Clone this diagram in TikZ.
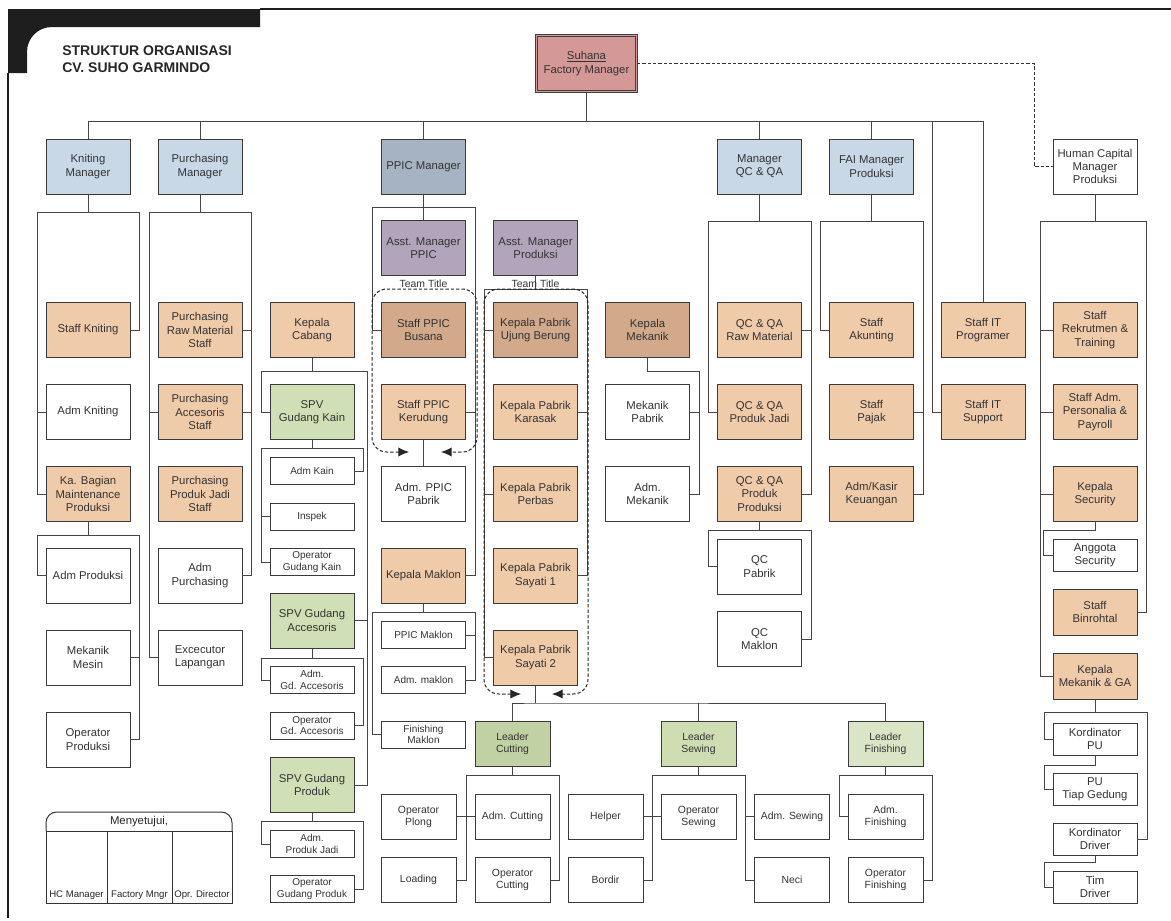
\documentclass[tikz,border=0pt]{standalone}
\usepackage{fontspec}
\setmainfont{Liberation Sans}
\usetikzlibrary{arrows.meta}

\definecolor{boxline}{HTML}{3A3A3A}
\definecolor{wiregray}{HTML}{454545}
\definecolor{framedark}{HTML}{1E1E1E}
\definecolor{fmred}{HTML}{D49896}
\definecolor{mgrblue}{HTML}{C9D8E6}
\definecolor{ppicblue}{HTML}{A6B3C3}
\definecolor{asstpurple}{HTML}{B0A5BB}
\definecolor{tanlight}{HTML}{F0CBAA}
\definecolor{tandark}{HTML}{D2A98A}
\definecolor{spvgreen}{HTML}{D1DFB6}
\definecolor{leadgreen}{HTML}{C2D1A3}

\begin{document}
\begin{tikzpicture}[x=0.75pt,y=-0.75pt,
  wire/.style={draw=wiregray, line width=0.75pt},
  base/.style={draw=boxline, line width=0.75pt, align=center, inner sep=1pt,
    text=black!80, font=\fontsize{8.5}{10}\selectfont,
    minimum width=63pt, minimum height=41.25pt},
  fmbox/.style={base, fill=fmred, draw=black!75, line width=0.6pt,
    double=fmred, double distance=1.3pt, minimum width=75pt, minimum height=42pt},
  mgrbox/.style={base, fill=mgrblue},
  ppicbox/.style={base, fill=ppicblue},
  asstbox/.style={base, fill=asstpurple},
  staffbox/.style={base, fill=tanlight},
  headbox/.style={base, fill=tandark},
  plainbox/.style={base, fill=white},
  spvbox/.style={base, fill=spvgreen},
  shortbox/.style={base, fill=tanlight, minimum height=34.5pt},
  smallbox/.style={base, fill=white, minimum height=20.25pt,
    font=\fontsize{7.5}{8.8}\selectfont},
  midbox/.style={base, fill=white, minimum height=24pt},
  leadbox/.style={base, minimum width=56.25pt, minimum height=33.75pt,
    font=\fontsize{7.8}{9}\selectfont},
  crewbox/.style={leadbox, fill=white},
  titletxt/.style={font=\bfseries\fontsize{10.5}{13}\selectfont, text=black!85, inner sep=0pt},
  teamlbl/.style={anchor=base, inner sep=0pt, font=\fontsize{7.8}{9}\selectfont, text=black!80},
  teamloop/.style={draw=black!85, line width=0.75pt, dash pattern=on 2.5pt off 1.5pt,
    rounded corners=11pt, {Latex[length=8pt,width=7pt]}-{Latex[length=8pt,width=7pt]}},
  hcdash/.style={draw=black!80, line width=0.7pt, dash pattern=on 2.5pt off 1.5pt},
  signhead/.style={inner sep=0pt, font=\fontsize{8.5}{10}\selectfont, text=black!85},
  signlbl/.style={inner sep=0pt, font=\fontsize{7.2}{8}\selectfont, text=black!85}]

\useasboundingbox (0,0) rectangle (1171,921);

% frame
\fill[framedark] (8,9) -- (260,9) -- (260,27) -- (52,27)
  .. controls (38,27) and (27,38) .. (27,52) -- (27,73) -- (8,73) -- cycle;
\draw[framedark, line width=0.9pt] (260,9) -- (1171,9);
\draw[framedark, line width=0.9pt] (8,73) -- (8,918);

\node[titletxt, anchor=base west] (title1) at (62,55) {STRUKTUR ORGANISASI};
\node[titletxt, anchor=base west] (title2) at (62,72) {CV. SUHO GARMINDO};

% top
\node[fmbox] (fm) at (586.5,63.5) {\underline{Suhana}\\Factory Manager};

% managers
\node[mgrbox]   (knitmgr)  at (88,166.5)    {Kniting\\Manager};
\node[mgrbox]   (purchmgr) at (200,166.5)   {Purchasing\\Manager};
\node[ppicbox]  (ppicmgr)  at (423.5,166.5) {PPIC Manager};
\node[mgrbox]   (qcmgr)    at (759.5,166.5) {Manager\\QC \& QA};
\node[mgrbox]   (faimgr)   at (871.5,166.5) {FAI Manager\\Produksi};
\node[plainbox] (hcmgr)    at (1095,166.5)  {Human Capital\\Manager\\Produksi};

\node[asstbox] (asstppic) at (423.5,248) {Asst. Manager\\PPIC};
\node[asstbox] (asstprod) at (535.5,248) {Asst. Manager\\Produksi};

% kniting
\node[staffbox] (staffknit) at (88,330)   {Staff Kniting};
\node[plainbox] (admknit)   at (88,412)   {Adm Kniting};
\node[staffbox] (kabag)     at (88,494)   {Ka. Bagian\\Maintenance\\Produksi};
\node[plainbox] (admprod)   at (88,575.5) {Adm Produksi};
\node[plainbox] (mekmesin)  at (88,657.5) {Mekanik\\Mesin};
\node[plainbox] (opprod)    at (88,739.5) {Operator\\Produksi};

% purchasing
\node[staffbox] (purchraw)  at (200,330)   {Purchasing\\Raw Material\\Staff};
\node[staffbox] (purchacc)  at (200,412)   {Purchasing\\Accesoris\\Staff};
\node[staffbox] (purchpj)   at (200,494)   {Purchasing\\Produk Jadi\\Staff};
\node[plainbox] (admpurch)  at (200,575.5) {Adm\\Purchasing};
\node[plainbox] (excecutor) at (200,657.5) {Excecutor\\Lapangan};

% cabang
\node[staffbox] (kepcabang) at (312,330)   {Kepala\\Cabang};
\node[spvbox]   (spvkain)   at (312,412)   {SPV\\Gudang Kain};
\node[smallbox] (admkain)   at (312,471)   {Adm Kain};
\node[smallbox] (inspek)    at (312,516.5) {Inspek};
\node[smallbox] (opkain)    at (312,562)   {Operator\\Gudang Kain};
\node[spvbox]   (spvacc)    at (312,620.5) {SPV Gudang\\Accesoris};
\node[smallbox] (admgdacc)  at (312,680)   {Adm.\\Gd. Accesoris};
\node[smallbox] (opgdacc)   at (312,725.5) {Operator\\Gd. Accesoris};
\node[spvbox]   (spvprod)   at (312,785)   {SPV Gudang\\Produk};
\node[smallbox] (admpj)     at (312,844)   {Adm.\\Produk Jadi};
\node[smallbox] (opgdprod)  at (312,889)   {Operator\\Gudang Produk};

% ppic
\node[headbox]  (staffbusana)   at (423.5,330)   {Staff PPIC\\Busana};
\node[staffbox] (staffkerudung) at (423.5,412)   {Staff PPIC\\Kerudung};
\node[plainbox] (admppic)       at (423.5,494)   {Adm. PPIC\\Pabrik};
\node[staffbox] (kepmaklon)     at (423.5,575.5) {Kepala Maklon};
\node[smallbox] (ppicmaklon)    at (423.5,635)   {PPIC Maklon};
\node[smallbox] (admmaklon)     at (423.5,680)   {Adm. maklon};
\node[smallbox] (finmaklon)     at (423.5,734.5) {Finishing\\Maklon};

% produksi
\node[headbox]  (kpujung)   at (535.5,330)   {Kepala Pabrik\\Ujung Berung};
\node[staffbox] (kpkarasak) at (535.5,412)   {Kepala Pabrik\\Karasak};
\node[staffbox] (kpperbas)  at (535.5,494)   {Kepala Pabrik\\Perbas};
\node[staffbox] (kpsayati1) at (535.5,575.5) {Kepala Pabrik\\Sayati 1};
\node[staffbox] (kpsayati2) at (535.5,657.5) {Kepala Pabrik\\Sayati 2};

\node[leadbox, fill=leadgreen] (ldcut) at (512.5,744) {Leader\\Cutting};
\node[leadbox, fill=spvgreen!85!leadgreen] (ldsew) at (698.5,744) {Leader\\Sewing};
\node[leadbox, fill=spvgreen!80!white] (ldfin) at (885.5,744) {Leader\\Finishing};

\node[crewbox] (opplong) at (418.5,816.5) {Operator\\Plong};
\node[crewbox] (admcut)  at (512.5,816.5) {Adm. Cutting};
\node[crewbox] (loading) at (418.5,880)   {Loading};
\node[crewbox] (opcut)   at (512.5,880)   {Operator\\Cutting};
\node[crewbox] (helper)  at (605.5,816.5) {Helper};
\node[crewbox] (opsew)   at (698.5,816.5) {Operator\\Sewing};
\node[crewbox] (admsew)  at (792,816.5)   {Adm. Sewing};
\node[crewbox] (bordir)  at (605.5,880)   {Bordir};
\node[crewbox] (neci)    at (792,880)     {Neci};
\node[crewbox] (admfin)  at (885.5,816.5) {Adm.\\Finishing};
\node[crewbox] (opfin)   at (885.5,880)   {Operator\\Finishing};

% mekanik
\node[headbox]  (kepmekanik) at (647.5,330) {Kepala\\Mekanik};
\node[plainbox] (mekpabrik)  at (647.5,412) {Mekanik\\Pabrik};
\node[plainbox] (admmekanik) at (647.5,494) {Adm.\\Mekanik};

% qc
\node[staffbox] (qcraw)    at (759.5,330)   {QC \& QA\\Raw Material};
\node[staffbox] (qcpj)     at (759.5,412)   {QC \& QA\\Produk Jadi};
\node[staffbox] (qcpp)     at (759.5,494)   {QC \& QA\\Produk\\Produksi};
\node[plainbox] (qcpabrik) at (759.5,566.5) {QC\\Pabrik};
\node[plainbox] (qcmaklon) at (759.5,639)   {QC\\Maklon};

% fai
\node[staffbox] (staffakunting) at (871.5,330) {Staff\\Akunting};
\node[staffbox] (staffpajak)    at (871.5,412) {Staff\\Pajak};
\node[staffbox] (admkasir)      at (871.5,494) {Adm/Kasir\\Keuangan};

% it
\node[staffbox] (itprog)    at (983,330) {Staff IT\\Programer};
\node[staffbox] (itsupport) at (983,412) {Staff IT\\Support};

% human capital
\node[staffbox] (rekrut)      at (1095,330) {Staff\\Rekrutmen \&\\Training};
\node[staffbox] (personalia)  at (1095,412) {Staff Adm.\\Personalia \&\\Payroll};
\node[staffbox] (kepsecurity) at (1095,494) {Kepala\\Security};
\node[midbox]   (anggota)     at (1095,555) {Anggota\\Security};
\node[shortbox] (binrohtal)   at (1095,612) {Staff\\Binrohtal};
\node[shortbox] (kepmekga)    at (1095,676) {Kepala\\Mekanik \& GA};
\node[midbox]   (korpu)       at (1095,739) {Kordinator\\PU};
\node[midbox]   (putiap)      at (1095,789) {PU\\Tiap Gedung};
\node[midbox]   (kordriver)   at (1095,839) {Kordinator\\Driver};
\node[midbox]   (timdriver)   at (1095,887) {Tim\\Driver};

% bracket corners
\coordinate (busL) at (88,121);    \coordinate (busR) at (983,121);
\coordinate (kL) at (37,212);      \coordinate (kR) at (139,212);
\coordinate (kbL) at (37,535);     \coordinate (kbR) at (139,535);
\coordinate (puL) at (149,212);    \coordinate (puR) at (251,212);
\coordinate (cbL) at (261,371);    \coordinate (cbR) at (367,371);
\coordinate (gkL) at (261,448);    \coordinate (gkR) at (363,448);
\coordinate (gaL) at (261,658);    \coordinate (gaR) at (363,658);
\coordinate (gpL) at (261,821);    \coordinate (gpR) at (363,821);
\coordinate (pL) at (372,207);     \coordinate (pR) at (475,207);
\coordinate (mkL) at (372,612);    \coordinate (mkR) at (475,612);
\coordinate (aL) at (484,289);     \coordinate (aR) at (587,289);
\coordinate (leadbus) at (535.5,703);
\coordinate (cL) at (466,775);     \coordinate (cR) at (559,775);
\coordinate (sL) at (652,775);     \coordinate (sR) at (745,775);
\coordinate (fL) at (839,775);     \coordinate (fR) at (932,775);
\coordinate (mekbend) at (699,371);
\coordinate (qL) at (708,221);     \coordinate (qR) at (811,221);
\coordinate (qpL) at (708,530);    \coordinate (qpR) at (811,530);
\coordinate (fiL) at (820,221);    \coordinate (fiR) at (923,221);
\coordinate (itbranch) at (932,121);
\coordinate (hL) at (1040,221);    \coordinate (hR) at (1146,221);
\coordinate (secbend) at (1043,530);
\coordinate (mgL) at (1044,712);   \coordinate (mgR) at (1147,712);
\coordinate (pubend) at (1044,765);
\coordinate (drvbend) at (1044,862);
\coordinate (hcbend) at (1034,64);

% main bus
\draw[wire] (fm.south) -- (fm.south |- busL) (busL) -- (busR);
\foreach \m in {knitmgr,purchmgr,ppicmgr,qcmgr,faimgr,itprog}
  \draw[wire] (\m.north) -- (\m.north |- busL);
\draw[wire] (itbranch) |- (itsupport.west);
\draw[hcdash] (fm.east) -- (fm.east -| hcbend) |- (hcmgr.west);

% bracket tops
\foreach \p/\l/\r in {knitmgr/kL/kR, kabag/kbL/kbR, purchmgr/puL/puR,
    kepcabang/cbL/cbR, spvkain/gkL/gkR, spvacc/gaL/gaR, spvprod/gpL/gpR,
    ppicmgr/pL/pR, kepmaklon/mkL/mkR, asstprod/aL/aR, ldcut/cL/cR,
    ldsew/sL/sR, ldfin/fL/fR, qcmgr/qL/qR, qcpp/qpL/qpR, faimgr/fiL/fiR,
    hcmgr/hL/hR, kepmekga/mgL/mgR}
  \draw[wire] (\p.south) -- (\p.south |- \l) (\l) -- (\r);

% kniting
\draw[wire] (kL) |- (kabag.west) (kL |- admknit) -- (admknit.west) (kR) |- (staffknit.east);
\draw[wire] (kbL) |- (admprod.west) (kbR) |- (opprod.east) (kbR |- mekmesin) -- (mekmesin.east);
% purchasing
\draw[wire] (puL) |- (excecutor.west) (puL |- purchacc) -- (purchacc.west)
  (puR) |- (admpurch.east) (puR |- purchraw) -- (purchraw.east) (puR |- purchacc) -- (purchacc.east);
% cabang
\draw[wire] (cbL) |- (spvkain.west) (cbR) |- (spvprod.east) (cbR |- spvacc) -- (spvacc.east);
\draw[wire] (gkL) |- (opkain.west) (gkL |- inspek) -- (inspek.west) (gkR) |- (admkain.east);
\draw[wire] (gaL) |- (admgdacc.west) (gaR) |- (opgdacc.east);
\draw[wire] (gpL) |- (admpj.west) (gpR) |- (opgdprod.east);
% ppic
\draw[wire] (ppicmgr.south) -- (asstppic.north) (pL) |- (staffbusana.west)
  (pR) |- (kepmaklon.east) (pR |- staffkerudung) -- (staffkerudung.east)
  (staffkerudung.south) -- (admppic.north);
\draw[wire] (mkL) |- (finmaklon.west) (mkR) |- (admmaklon.east) (mkR |- ppicmaklon) -- (ppicmaklon.east);
% produksi
\draw[wire] (aL) |- (kpsayati2.west) (aR) |- (kpsayati1.east) (aL |- kpujung) -- (kpujung.west)
  (aR |- kpkarasak) -- (kpkarasak.east) (aL |- kpperbas) -- (kpperbas.west);
\draw[wire] (kpsayati2.south) -- (leadbus) (ldcut.north) |- (leadbus) -| (ldfin.north)
  (ldsew.north) -- (ldsew.north |- leadbus);
\draw[wire] (cL) |- (loading.east) (cR) |- (opcut.east) (opplong.east) -- (admcut.west);
\draw[wire] (sL) |- (bordir.east) (sR) |- (neci.west) (helper.east) -- (opsew.west) (sR |- admsew) -- (admsew.west);
\draw[wire] (fL) |- (admfin.west) (fR) |- (opfin.east);
% mekanik
\draw[wire] (kepmekanik.south) |- (mekbend) |- (admmekanik.east) (mekbend |- mekpabrik) -- (mekpabrik.east);
% qc
\draw[wire] (qL) |- (qcpj.west) (qR) |- (qcpp.east) (qR |- qcraw) -- (qcraw.east);
\draw[wire] (qpL) |- (qcpabrik.west) (qpR) |- (qcmaklon.east);
% fai
\draw[wire] (fiL) |- (staffakunting.west) (fiR) |- (admkasir.east) (fiR |- staffpajak) -- (staffpajak.east);
% human capital
\draw[wire] (hL) |- (kepmekga.west) (hR) |- (binrohtal.east);
\foreach \c in {rekrut,personalia,kepsecurity}
  \draw[wire] (hL |- \c) -- (\c.west);
\draw[wire] (kepsecurity.south) |- (secbend) |- (anggota.west);
\draw[wire] (mgL) |- (korpu.west) (mgR) |- (kordriver.east);
\draw[wire] (korpu.south) |- (pubend) |- (putiap.west);
\draw[wire] (kordriver.south) |- (drvbend) |- (timdriver.west);

% team loops
\node[teamlbl] (team1) at (423.5,287) {Team Title};
\node[teamlbl] (team2) at (535.5,287) {Team Title};
\draw[teamloop] (409,452) -- (372,452) -- (372,289) -- (477,289) -- (477,452) -- (441,452);
\draw[teamloop] (521,694) -- (484,694) -- (484,289) -- (588,289) -- (588,694) -- (552,694);

% approval
\draw[wire, draw=black!80, rounded corners=8pt] (46,831) |- (232,812) -- (232,831);
\draw[wire, draw=black!80] (46,831) rectangle (232,903) (107,831) -- (107,903) (172,831) -- (172,903);
\node[signhead] (approve) at (139,822) {Menyetujui,};
\node[signlbl] (signhc) at (76.5,895)  {HC Manager};
\node[signlbl] (signfm) at (139.5,895) {Factory Mngr};
\node[signlbl] (signop) at (202,895)   {Opr. Director};

\end{tikzpicture}
\end{document}
